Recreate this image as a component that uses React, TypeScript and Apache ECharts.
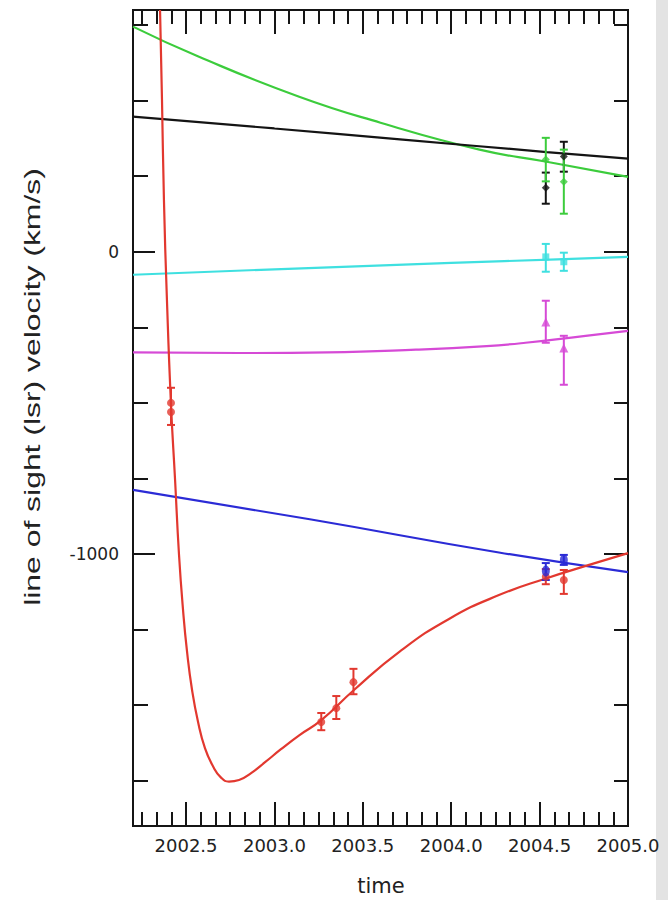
import React, { useEffect, useRef } from "react";
import * as echarts from "echarts";

// ---- axis ranges & ticks ----
const X_MIN = 2002.2;
const X_MAX = 2005.0;
const Y_MIN = -1900;
const Y_MAX = 800;
const xMajorTicks = [2002.5, 2003.0, 2003.5, 2004.0, 2004.5, 2005.0];
const yMajorTicks = [0, -1000];
const yMinorTicks = [750, 500, 250, -250, -500, -750, -1250, -1500, -1750];
const MONTH = 1 / 12;

// ---- model curves [time, velocity] ----
const greenCurve = [
  [2002.2, 745], [2002.57, 646], [2003.14, 513], [2003.6, 427],
  [2004.16, 338], [2004.54, 298], [2005.0, 248],
];
const blackCurve = [
  [2002.2, 447], [2003.0, 408], [2003.71, 372], [2004.54, 330], [2005.0, 308],
];
const cyanCurve = [
  [2002.2, -76], [2003.0, -58], [2004.0, -37], [2004.6, -25], [2005.0, -17],
];
const magentaCurve = [
  [2002.2, -333], [2002.8, -335], [2003.3, -333], [2003.8, -324],
  [2004.2, -312], [2004.42, -301], [2004.76, -278], [2005.0, -262],
];
const blueCurve = [
  [2002.2, -788], [2003.2, -885], [2004.27, -995], [2005.0, -1060],
];
const redCurve = [
  [2002.353, 800], [2002.364, 503], [2002.375, 172], [2002.392, -159],
  [2002.415, -507], [2002.438, -755], [2002.46, -1000], [2002.483, -1185],
  [2002.506, -1325], [2002.534, -1450], [2002.568, -1556], [2002.607, -1642],
  [2002.653, -1703], [2002.698, -1740], [2002.743, -1753], [2002.8, -1748],
  [2002.868, -1725], [2002.947, -1689], [2003.037, -1646], [2003.14, -1600],
  [2003.265, -1550], [2003.45, -1450], [2003.71, -1322], [2003.99, -1214],
  [2004.27, -1136], [2004.54, -1080], [2004.78, -1036], [2005.0, -997],
];

// ---- measurements: markers [time, v], error bars [time, hi, lo] ----
const redPts = [
  [2002.415, -500], [2002.415, -530], [2003.265, -1556], [2003.35, -1510],
  [2003.447, -1424], [2004.535, -1075], [2004.637, -1086],
];
const redBars = [
  [2002.415, -450, -573], [2003.265, -1526, -1583], [2003.35, -1470, -1546],
  [2003.447, -1380, -1464], [2004.535, -1050, -1100], [2004.637, -1053, -1132],
];
const bluePts = [[2004.535, -1056], [2004.637, -1020]];
const blueBars = [[2004.535, -1030, -1086], [2004.637, -1003, -1036]];
const blackPts = [[2004.535, 212], [2004.637, 315]];
const blackBars = [[2004.535, 262, 159], [2004.637, 364, 265]];
const greenPts = [[2004.535, 305], [2004.637, 232]];
const greenBars = [[2004.535, 377, 233], [2004.637, 338, 126]];
const cyanPts = [[2004.535, -17], [2004.637, -33]];
const cyanBars = [[2004.535, 26, -66], [2004.637, -3, -63]];
const magentaPts = [[2004.535, -232], [2004.637, -318]];
const magentaBars = [[2004.535, -162, -301], [2004.637, -278, -440]];

const COLORS = {
  green: "#3ccc3c",
  black: "#141414",
  cyan: "#3fe0e0",
  magenta: "#d64ad6",
  blue: "#2b2bd6",
  red: "#e2382f",
};

const FONT = "'Liberation Sans', Arial, Helvetica, sans-serif";
const WIDE_FONT = "'DejaVu Sans', 'Liberation Sans', sans-serif";
const AXIS_COLOR = "#151515";

function xMinorTicks(): number[] {
  const out: number[] = [];
  for (let m = 3; m < 36; m++) {
    if (m % 6 !== 0) out.push(2002 + m * MONTH);
  }
  return out;
}

function xAxisCfg(position: "top" | "bottom", ticks: number[], len: number, labels: boolean) {
  return {
    type: "value",
    position,
    min: X_MIN,
    max: X_MAX,
    splitLine: { show: false },
    axisLine: { show: true, onZero: false, lineStyle: { color: AXIS_COLOR, width: 2 } },
    axisTick: {
      show: true,
      inside: true,
      length: len,
      customValues: ticks,
      lineStyle: { color: AXIS_COLOR, width: 2 },
    },
    axisLabel: labels
      ? {
          show: true,
          customValues: xMajorTicks,
          formatter: (v: number) => v.toFixed(1),
          fontFamily: WIDE_FONT,
          fontSize: 18,
          color: "#222",
          margin: 10,
        }
      : { show: false },
  };
}

function yAxisCfg(position: "left" | "right", ticks: number[], len: number, labels: boolean) {
  return {
    type: "value",
    position,
    min: Y_MIN,
    max: Y_MAX,
    splitLine: { show: false },
    axisLine: { show: true, onZero: false, lineStyle: { color: AXIS_COLOR, width: 2 } },
    axisTick: {
      show: true,
      inside: true,
      length: len,
      customValues: ticks,
      lineStyle: { color: AXIS_COLOR, width: 2 },
    },
    axisLabel: labels
      ? {
          show: true,
          customValues: yMajorTicks,
          formatter: (v: number) => String(Math.round(v)),
          fontFamily: WIDE_FONT,
          fontSize: 17,
          color: "#222",
          margin: 14,
        }
      : { show: false },
  };
}

function lineSeries(data: number[][], color: string) {
  return {
    type: "line",
    data,
    xAxisIndex: 0,
    yAxisIndex: 0,
    showSymbol: false,
    smooth: true,
    clip: true,
    lineStyle: { color, width: 2.2 },
    z: 2,
  };
}

function markerSeries(data: number[][], color: string, symbol: string, size: any) {
  return {
    type: "scatter",
    data,
    xAxisIndex: 0,
    yAxisIndex: 0,
    symbol,
    symbolSize: size,
    itemStyle: { color },
    z: 5,
  };
}

function barSeries(data: number[][], color: string) {
  return {
    type: "custom",
    data,
    xAxisIndex: 0,
    yAxisIndex: 0,
    encode: { x: 0, y: [1, 2] },
    z: 4,
    renderItem: (_p: any, api: any) => {
      const t = api.value(0);
      const a = api.coord([t, api.value(1)]);
      const b = api.coord([t, api.value(2)]);
      const hw = 4;
      const style = { stroke: color, lineWidth: 2 };
      return {
        type: "group",
        children: [
          { type: "line", shape: { x1: a[0], y1: a[1], x2: b[0], y2: b[1] }, style },
          { type: "line", shape: { x1: a[0] - hw, y1: a[1], x2: a[0] + hw, y2: a[1] }, style },
          { type: "line", shape: { x1: b[0] - hw, y1: b[1], x2: b[0] + hw, y2: b[1] }, style },
        ],
      };
    },
  };
}

export default function App() {
  const ref = useRef<HTMLDivElement>(null);

  useEffect(() => {
    if (!ref.current) return;
    const chart = echarts.init(ref.current, undefined, { renderer: "svg" });
    const minor = xMinorTicks();
    chart.setOption({
      animation: false,
      backgroundColor: "#ffffff",
      grid: { left: 133, right: 40, top: 10, bottom: 74 },
      xAxis: [
        xAxisCfg("bottom", xMajorTicks, 24, true),
        xAxisCfg("bottom", minor, 14, false),
        xAxisCfg("top", xMajorTicks, 24, false),
        xAxisCfg("top", minor, 14, false),
      ],
      yAxis: [
        yAxisCfg("left", yMajorTicks, 22, true),
        yAxisCfg("left", yMinorTicks, 15, false),
        yAxisCfg("right", yMajorTicks, 24, false),
        yAxisCfg("right", yMinorTicks, 14, false),
      ],
      graphic: [
        {
          type: "text",
          x: 32,
          y: 387,
          rotation: Math.PI / 2,
          scaleX: 1.45,
          style: {
            text: "line of sight (lsr) velocity (km/s)",
            fontFamily: FONT,
            fontSize: 22,
            fill: "#222",
            textAlign: "center",
            textVerticalAlign: "middle",
          },
        },
        {
          type: "text",
          x: 381,
          y: 886,
          style: {
            text: "time",
            fontFamily: WIDE_FONT,
            fontSize: 21,
            fill: "#222",
            textAlign: "center",
            textVerticalAlign: "middle",
          },
        },
        {
          type: "rect",
          shape: { x: 656, y: 0, width: 12, height: 900 },
          style: { fill: "#e3e3e3" },
        },
      ],
      series: [
        lineSeries(greenCurve, COLORS.green),
        lineSeries(blackCurve, COLORS.black),
        lineSeries(cyanCurve, COLORS.cyan),
        lineSeries(magentaCurve, COLORS.magenta),
        lineSeries(blueCurve, COLORS.blue),
        lineSeries(redCurve, COLORS.red),
        barSeries(redBars, COLORS.red),
        barSeries(blueBars, COLORS.blue),
        barSeries(blackBars, COLORS.black),
        barSeries(greenBars, COLORS.green),
        barSeries(cyanBars, COLORS.cyan),
        barSeries(magentaBars, COLORS.magenta),
        markerSeries(redPts, COLORS.red, "circle", 8),
        markerSeries(bluePts, COLORS.blue, "circle", [8, 11]),
        markerSeries(blackPts, COLORS.black, "diamond", 8),
        markerSeries(greenPts, COLORS.green, "diamond", 8),
        markerSeries(cyanPts, COLORS.cyan, "rect", 7),
        markerSeries(magentaPts, COLORS.magenta, "triangle", 9),
      ],
    });
    return () => chart.dispose();
  }, []);

  return (
    <div
      ref={ref}
      style={{ position: "absolute", left: 0, top: 0, width: 668, height: 900 }}
    />
  );
}
